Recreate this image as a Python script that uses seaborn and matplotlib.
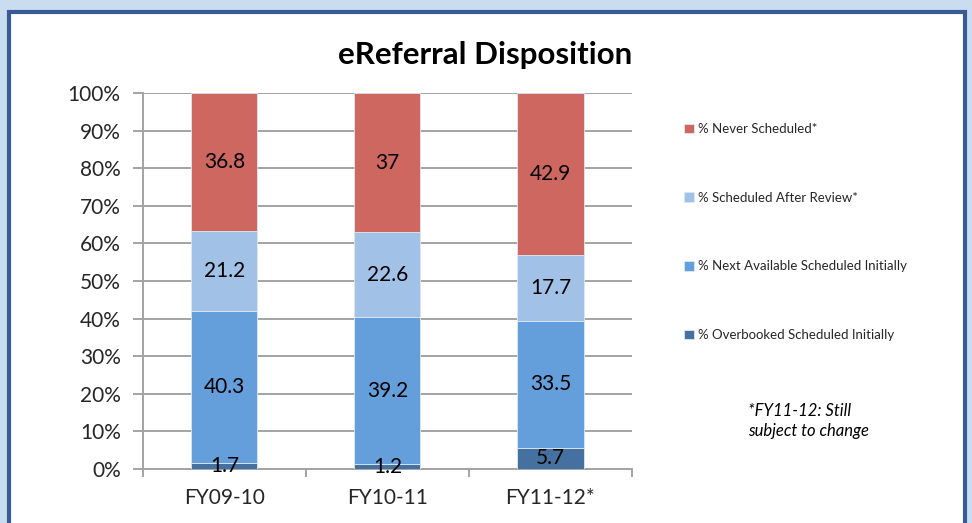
import numpy as np
import pandas as pd
import matplotlib
matplotlib.use("Agg")
import matplotlib.pyplot as plt
import matplotlib.patches as mpatches
import seaborn as sns

categories = ["FY09-10", "FY10-11", "FY11-12*"]
series_names = ["% Overbooked Scheduled Initially",
                "% Next Available Scheduled Initially",
                "% Scheduled After Review*",
                "% Never Scheduled*"]
overbooked = [1.7, 1.2, 5.7]
next_available = [40.3, 39.2, 33.5]
after_review = [21.2, 22.6, 17.7]
never_scheduled = [36.8, 37.0, 42.9]
colors = ["#44719f", "#659fdb", "#a2c1e6", "#cd6760"]
footnote = "*FY11-12: Still\nsubject to change"

sns.set_theme(style="white")
plt.rcParams['font.family'] = ['Lato', 'DejaVu Sans']

series = [overbooked, next_available, after_review, never_scheduled]
raw = np.array(series, dtype=float)
totals = raw.sum(axis=0)
pct = raw / totals * 100.0

fig = plt.figure(figsize=(9.72, 5.23), dpi=100)
fig.patch.set_facecolor("#c9dcf0")
# white panel with dark blue border
panel = mpatches.Rectangle((0.0095, -0.05), 0.983, 1.028, transform=fig.transFigure,
                           facecolor="white", edgecolor="#3a5a96", linewidth=3, zorder=-10)
fig.patches.append(panel)

ax = fig.add_axes([0.1471, 0.1033, 0.5031, 0.7189])
ax.set_facecolor("none")

bottom = np.zeros(len(categories))
for i, name in enumerate(series_names):
    df = pd.DataFrame({"cat": categories, "val": pct[i]})
    sns.barplot(data=df, x="cat", y="val", bottom=bottom, color=colors[i],
                width=0.405, ax=ax, saturation=1, label=name,
                edgecolor="#dce8f5", linewidth=0.6, zorder=3)
    for j in range(len(categories)):
        ax.text(j, bottom[j] + pct[i][j] / 2, f"{series[i][j]:g}",
                ha="center", va="center", fontsize=15, color="black", zorder=5)
    bottom = bottom + pct[i]

handles, labels = ax.get_legend_handles_labels()
if ax.get_legend() is not None:
    ax.get_legend().remove()

ax.set_xlim(-0.5, 2.5)
ax.set_ylim(0, 100)
ax.set_yticks(np.arange(0, 101, 10))
ax.set_yticklabels([f"{v}%" for v in range(0, 101, 10)], fontsize=15)
ax.yaxis.grid(True, color="#a3a3a3", linewidth=1.4, zorder=0)
ax.set_axisbelow(True)
ax.set_xlabel("")
ax.set_ylabel("")
ax.tick_params(axis="y", length=7, width=1.4, color="#a3a3a3", pad=9, left=True)
ax.set_xticks(range(len(categories)))
ax.set_xticklabels(categories, fontsize=15)
ax.tick_params(axis="x", which="major", length=0, pad=14)
ax.set_xticks([-0.5, 0.5, 1.5, 2.5], minor=True)
ax.tick_params(axis="x", which="minor", length=6, width=1.4, color="#a3a3a3", bottom=True)
for s in ["top", "right"]:
    ax.spines[s].set_visible(False)
for s in ["left", "bottom"]:
    ax.spines[s].set_color("#a3a3a3")
    ax.spines[s].set_linewidth(1.4)

fig.text(0.499, 0.895, "eReferral Disposition", ha="center", va="center",
         fontsize=22.5, fontweight="bold", color="black")

order = list(range(len(handles)))[::-1]
fig.legend([handles[k] for k in order], [labels[k] for k in order],
           loc="upper left", bbox_to_anchor=(0.698, 0.775), frameon=False,
           fontsize=9.5, handlelength=0.75, handleheight=0.75, handletextpad=0.35,
           labelspacing=4.3, borderaxespad=0)

fig.text(0.7695, 0.195, footnote, ha="left", va="center", fontsize=12,
         style="italic", color="black", linespacing=1.35, multialignment="left")

fig.savefig("out.png", dpi=100, facecolor=fig.get_facecolor())
